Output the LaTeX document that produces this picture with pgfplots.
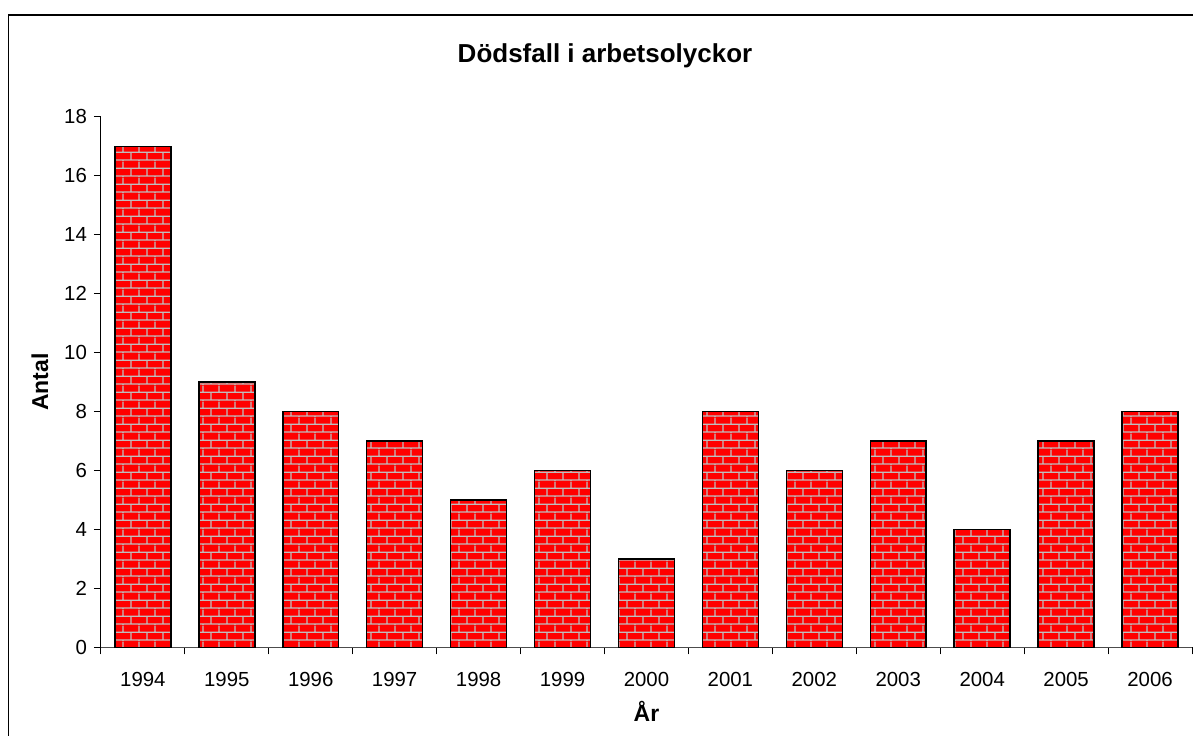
\documentclass[border=0pt]{standalone}
\usepackage{pgfplots}
\pgfplotsset{compat=1.18}
\usepackage{fontspec}
\setmainfont{Liberation Sans}
\usetikzlibrary{patterns}
\definecolor{mortar}{RGB}{190,190,190}
\pgfdeclarepatternformonly{mybricks}{\pgfpointorigin}{\pgfpoint{8pt}{7.85pt}}{\pgfpoint{8pt}{7.85pt}}{
  \pgfsetlinewidth{0.65pt}
  \pgfpathmoveto{\pgfpoint{0pt}{0.5pt}}\pgfpathlineto{\pgfpoint{8pt}{0.5pt}}
  \pgfpathmoveto{\pgfpoint{0pt}{4.425pt}}\pgfpathlineto{\pgfpoint{8pt}{4.425pt}}
  \pgfpathmoveto{\pgfpoint{2pt}{0.5pt}}\pgfpathlineto{\pgfpoint{2pt}{4.425pt}}
  \pgfpathmoveto{\pgfpoint{6pt}{4.425pt}}\pgfpathlineto{\pgfpoint{6pt}{7.85pt}}
  \pgfpathmoveto{\pgfpoint{6pt}{0pt}}\pgfpathlineto{\pgfpoint{6pt}{0.5pt}}
  \pgfusepath{stroke}
}
\pgfplotstableread{
x val
0 17
1 9
2 8
3 7
4 5
5 6
6 3
7 8
8 6
9 7
10 4
11 7
12 8
}\deaths
\begin{document}
\begin{tikzpicture}
\useasboundingbox (-50.5pt,-44pt) rectangle (546.5pt,324pt);
\draw[line width=0.6pt] (-46.25pt,-50pt) -- (-46.25pt,316.5pt) -- (560pt,316.5pt);
\begin{axis}[
  at={(0pt,0pt)}, anchor=south west,
  scale only axis, width=546pt, height=265.5pt,
  xmin=-0.5, xmax=12.5, ymin=0, ymax=18,
  axis lines=left, axis line style={-, line width=0.5pt},
  x axis line style={draw=black!70},
  ytick={0,2,...,18},
  xtick={0,...,12},
  xticklabels={1994,1995,1996,1997,1998,1999,2000,2001,2002,2003,2004,2005,2006},
  minor xtick={-0.5,0.5,...,12.5},
  major x tick style={draw=none},
  tick align=outside,
  major tick length=3.5pt, minor tick length=3.5pt,
  tick style={black, line width=0.5pt},
  /pgf/number format/assume math mode=true,
  ticklabel style={font=\fontsize{10.2pt}{12pt}\selectfont},
  xticklabel style={yshift=-5.5pt},
  title={\textbf{Dödsfall i arbetsolyckor}},
  title style={at={(axis description cs:0.462,1)}, anchor=center, yshift=24.5pt, font=\fontsize{13pt}{15pt}\selectfont},
  xlabel={\textbf{År}},
  ylabel={\textbf{Antal}},
  every axis x label/.style={at={(axis description cs:0.5,0)}, anchor=center, yshift=-32pt, font=\fontsize{11.5pt}{14pt}\selectfont},
  every axis y label/.style={at={(axis description cs:0,0.5)}, anchor=center, rotate=90, yshift=30.5pt, font=\fontsize{11.5pt}{14pt}\selectfont},
  ybar, bar width=28pt,
  clip=false,
]
\addplot[preaction={fill=red}, pattern=mybricks, pattern color=mortar, draw=black, line width=0.75pt] table[x=x,y=val] {\deaths};
\end{axis}
\end{tikzpicture}
\end{document}
